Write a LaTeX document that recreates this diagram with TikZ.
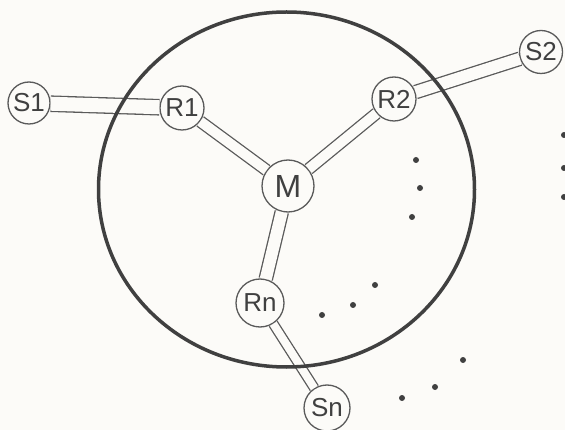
\documentclass[tikz,border=0pt]{standalone}
\usepackage{fontspec}
\setsansfont{Liberation Sans}
\usepackage{tikz}
\definecolor{InkGrey}{RGB}{64,64,64}
\definecolor{BondGrey}{RGB}{90,90,90}
\definecolor{PaperWhite}{RGB}{252,251,248}

\begin{document}
\begin{tikzpicture}[x=1pt,y=-1pt,
  atom/.style={circle,draw=BondGrey,line width=1.3pt,fill=PaperWhite,inner sep=0pt,
    minimum size=44pt,text=InkGrey,font=\sffamily\fontsize{26}{28}\selectfont},
  bond/.style={draw=BondGrey,line width=1.3pt,double=PaperWhite,double distance=10pt},
  speck/.style={fill=InkGrey}]
\fill[PaperWhite] (0,0) rectangle (565,430);
\useasboundingbox (0,0) rectangle (565,430);
\node[atom,minimum size=52pt,font=\sffamily\fontsize{32}{34}\selectfont] (M) at (288,186) {M};
\node[atom] (R1) at (182,108) {R1};
\node[atom] (R2) at (394,99) {R2};
\node[atom,minimum size=48pt] (Rn) at (260,303) {Rn};
\node[atom,minimum size=42pt] (S1) at (29,103) {S1};
\node[atom,minimum size=43pt] (S2) at (541,52) {S2};
\node[atom,minimum size=46pt] (Sn) at (327,408) {Sn};
\draw[bond,double distance=14pt] (S1) -- (R1);
\draw[bond] (R1) -- (M);
\draw[bond] (R2) -- (M);
\draw[bond,double distance=12pt] (R2) -- (S2);
\draw[bond,double distance=12pt] (M) -- (Rn);
\draw[bond,double distance=8pt] (Rn) -- (Sn);
\draw[InkGrey,line width=3.5pt] (286.5,189.5) ellipse [x radius=188,y radius=177.5];
\foreach \p in {(416,160),(420,188),(412,217),(375,285),(353,305),(322,315),
  (463,360),(435,387),(402,398),(564,135),(564,168),(564,197)}
  \fill[speck] \p circle (3);
\end{tikzpicture}
\end{document}
